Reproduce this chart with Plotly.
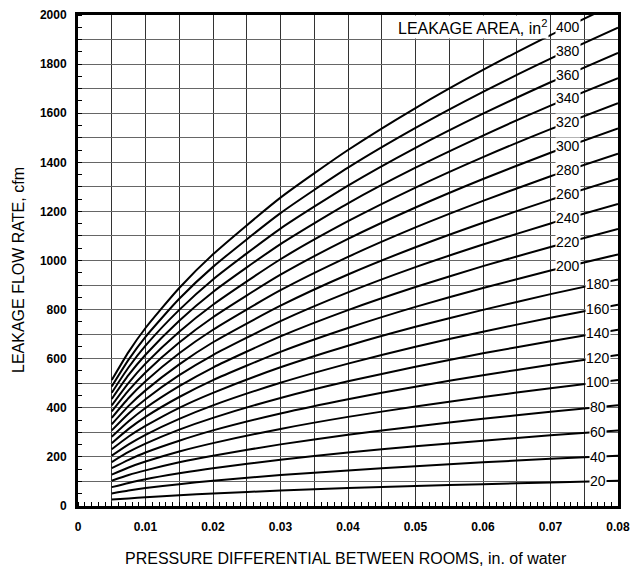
import numpy as np
import plotly.graph_objects as go

# pressure differential, in. of water
dp = [0.005, 0.0075, 0.01, 0.015, 0.02, 0.03, 0.04, 0.05, 0.06, 0.07, 0.08]

# leakage flow rate (cfm) for each leakage area (in^2)
areas = [20, 40, 60, 80, 100, 120, 140, 160, 180, 200,
         220, 240, 260, 280, 300, 320, 340, 360, 380, 400]
q20 = [26, 31, 36, 44, 51, 63, 73, 81, 89, 96, 103]
q40 = [51, 63, 73, 89, 103, 126, 145, 162, 178, 192, 205]
q60 = [77, 94, 109, 133, 154, 188, 218, 243, 266, 288, 308]
q80 = [103, 126, 145, 178, 205, 251, 290, 324, 355, 384, 410]
q100 = [128, 157, 181, 222, 256, 314, 363, 405, 444, 480, 513]
q120 = [154, 188, 218, 266, 308, 377, 435, 486, 533, 575, 615]
q140 = [179, 220, 254, 311, 359, 440, 508, 567, 622, 671, 718]
q160 = [205, 251, 290, 355, 410, 502, 580, 649, 710, 767, 820]
q180 = [231, 283, 326, 400, 461, 565, 653, 730, 799, 863, 923]
q200 = [256, 314, 363, 444, 513, 628, 725, 811, 888, 959, 1025]
q220 = [282, 345, 399, 488, 564, 691, 798, 892, 977, 1055, 1128]
q240 = [308, 377, 435, 533, 615, 753, 870, 973, 1065, 1151, 1230]
q260 = [333, 408, 471, 577, 667, 816, 943, 1054, 1154, 1247, 1333]
q280 = [359, 440, 508, 622, 718, 879, 1015, 1135, 1243, 1343, 1435]
q300 = [385, 471, 544, 666, 769, 942, 1088, 1216, 1332, 1439, 1538]
q320 = [410, 502, 580, 710, 820, 1005, 1160, 1297, 1421, 1535, 1641]
q340 = [436, 534, 616, 755, 872, 1067, 1233, 1378, 1509, 1631, 1743]
q360 = [461, 565, 653, 799, 923, 1130, 1305, 1459, 1598, 1726, 1846]
q380 = [487, 596, 689, 844, 974, 1193, 1378, 1540, 1687, 1822, 1948]
q400 = [513, 628, 725, 888, 1025, 1256, 1450, 1621, 1776, 1918, 2051]
flows = [q20, q40, q60, q80, q100, q120, q140, q160, q180, q200,
         q220, q240, q260, q280, q300, q320, q340, q360, q380, q400]

# tick labels
x_tickvals = [0, 0.005, 0.01, 0.015, 0.02, 0.025, 0.03, 0.035, 0.04,
              0.045, 0.05, 0.055, 0.06, 0.065, 0.07, 0.075, 0.08]
x_ticktext = ["0", "", "0.01", "", "0.02", "", "0.03", "", "0.04",
              "", "0.05", "", "0.06", "", "0.07", "", "0.08"]
y_tickvals = list(range(0, 2001, 100))
y_ticktext = [str(v) if v % 200 == 0 else "" for v in y_tickvals]

FONT = "Liberation Sans, Arial, sans-serif"

fig = go.Figure()
for a, q in zip(areas, flows):
    fig.add_trace(go.Scatter(x=dp, y=q, mode="lines",
                             line=dict(color="black", width=2, shape="spline", smoothing=0.6),
                             showlegend=False, hoverinfo="skip"))

annotations = []
for a, q in zip(areas, flows):
    lx = 0.0726 if a >= 200 else 0.0770
    ly = float(np.interp(lx, dp, q))
    annotations.append(dict(x=lx, y=ly, xref="x", yref="y", text=str(a), showarrow=False,
                            font=dict(family=FONT, size=14, color="black"),
                            bgcolor="white", borderpad=0, xanchor="center", yanchor="middle"))

annotations.append(dict(x=0.0698, y=1950, xref="x", yref="y", text="LEAKAGE AREA, in<sup>2</sup>",
                        showarrow=False, font=dict(family=FONT, size=16, color="black"),
                        bgcolor="white", borderpad=1, xanchor="right", yanchor="middle"))

# axis titles
annotations.append(dict(x=(346 - 78) / 540, y=0, xref="paper", yref="paper", yshift=-52,
                        text="PRESSURE DIFFERENTIAL BETWEEN ROOMS, in. of water", showarrow=False,
                        font=dict(family=FONT, size=16, color="black"),
                        xanchor="center", yanchor="middle"))
annotations.append(dict(x=0, y=(506 - 270) / 491, xref="paper", yref="paper", xshift=-60,
                        text="LEAKAGE FLOW RATE, cfm", showarrow=False, textangle=-90,
                        font=dict(family=FONT, size=16, color="black"),
                        xanchor="center", yanchor="middle"))

fig.update_layout(
    width=631, height=569,
    margin=dict(l=78, r=13, t=15, b=63, autoexpand=False),
    paper_bgcolor="white", plot_bgcolor="white",
    annotations=annotations,
    font=dict(family=FONT, color="black"),
)

fig.update_xaxes(
    range=[0, 0.08], tickmode="array", tickvals=x_tickvals, ticktext=x_ticktext,
    showgrid=True, gridcolor="#333", gridwidth=1,
    minor=dict(dtick=0.001, tick0=0, showgrid=False, ticks="inside", ticklen=4,
               tickcolor="black", tickwidth=1),
    ticks="", showline=True, linecolor="black", linewidth=3, mirror=True, zeroline=False,
    tickfont=dict(family=FONT, size=12, color="black", weight="bold"),
    ticklabelstandoff=8, automargin=False, ticklabeloverflow="allow",
)
fig.update_yaxes(
    range=[0, 2000], tickmode="array", tickvals=y_tickvals, ticktext=y_ticktext,
    showgrid=True, gridcolor="#666", gridwidth=1,
    minor=dict(dtick=50, tick0=0, showgrid=False, ticks="inside", ticklen=4,
               tickcolor="black", tickwidth=1),
    ticks="", showline=True, linecolor="black", linewidth=3, mirror=True, zeroline=False,
    tickfont=dict(family=FONT, size=12, color="black", weight="bold"),
    ticklabelstandoff=6, automargin=False,
)

# remove the default page margin so the figure fills the window exactly
fig.write_html("out.html", config={"displayModeBar": False},
               post_script="document.body.style.margin='0px';document.body.style.overflow='hidden';")
